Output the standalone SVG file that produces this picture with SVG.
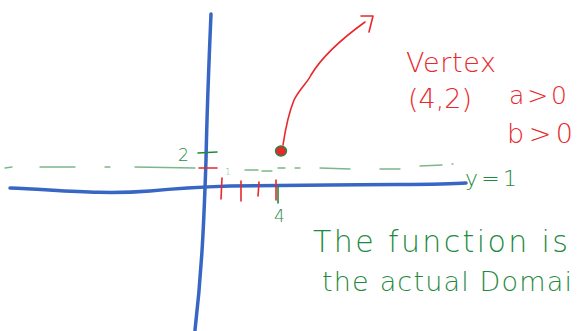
<svg xmlns="http://www.w3.org/2000/svg" width="577" height="331" viewBox="0 0 577 331">
<style>
.ax{fill:none;stroke:#3866c4;stroke-width:3.5;stroke-linecap:round;stroke-linejoin:round}
.r{fill:none;stroke:#e8282b;stroke-width:1.6;stroke-linecap:round;stroke-linejoin:round}
.g{fill:none;stroke:#1f8a3e;stroke-width:1.6;stroke-linecap:round}
.gl{fill:none;stroke:#7db68b;stroke-width:1.3;stroke-linecap:round}
.rt{fill:#e8282b;font-family:"DejaVu Sans",sans-serif;font-weight:200}
.gt{fill:#1f8a3e;font-family:"DejaVu Sans",sans-serif;font-weight:200}
</style>
<rect width="577" height="331" fill="#fff"/>
<g id="axes">
<path class="ax" d="M211,14 C209,60 207,110 206,160 C204,220 202,270 195,330"/>
<path class="ax" d="M10,188 C60,190 100,195 150,191 C180,188 200,187 230,186 L330,185 C400,184 440,185 466,183"/>
</g>
<g id="dashed-line">
<path class="gl" d="M5,168 L12,167 M40,167 L75,167 M105,167 L110,167 M135,167 L195,168 M245,170 L258,170 M262,171 L272,171 M278,168 L285,168 M295,168 L300,168 M320,168 L350,169 M380,169 L400,169 M420,166 L442,165 M452,164 L453,164"/>
<path class="r" d="M199,168 L217,168"/>
<text x="225" y="175" class="gt" font-size="9" fill-opacity="0.7">1</text>
</g>
<g id="ticks">
<path class="g" d="M198,153 L217,152" stroke-width="2.2"/>
<text x="178" y="161" class="gt" font-size="17">2</text>
<path class="r" d="M222,178 L221,199 M241,181 L241,201 M259,182 L258,196 M276,180 L276,200"/>
<path class="g" d="M278,186 L278,203" stroke-width="2"/>
<text x="274" y="222" class="gt" font-size="17">4</text>
</g>
<g id="vertex-point">
<ellipse cx="281" cy="151" rx="5.5" ry="5" fill="#e8282b" stroke="#1f8a3e" stroke-width="1.4"/>
<path class="r" d="M283,145 C286,125 290,110 294,100 C300,88 308,82 311,75 C320,60 340,40 365,22 M361,16 L373,16 L369,32"/>
</g>
<g id="labels">
<text x="406" y="72" class="rt" font-size="27" textLength="90" lengthAdjust="spacing">Vertex</text>
<text x="408" y="108" class="rt" font-size="27" textLength="64" lengthAdjust="spacing">(4,2)</text>
<text x="509" y="104" class="rt" font-size="25" textLength="58" lengthAdjust="spacing">a&gt;0</text>
<text x="507" y="143" class="rt" font-size="27" textLength="66" lengthAdjust="spacing">b&gt;0</text>
<text x="465" y="186" class="gt" font-size="22" textLength="52" lengthAdjust="spacing">y=1</text>
<text x="313" y="252" class="gt" font-size="30" textLength="255" lengthAdjust="spacing">The function is</text>
<text x="322" y="291" class="gt" font-size="27" textLength="250" lengthAdjust="spacing">the actual Domai</text>
</g>
</svg>
